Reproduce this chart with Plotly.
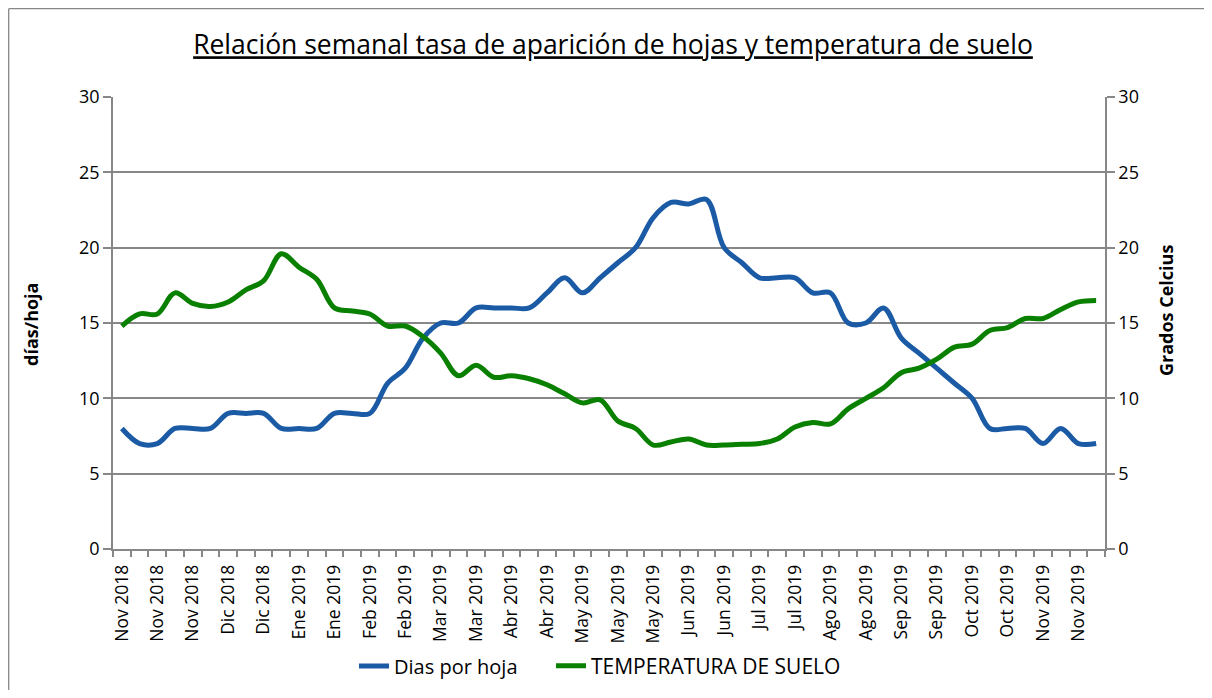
import plotly.graph_objects as go

# Weekly categories (56 weeks); labels shown every 2nd week
tick_labels = ["Nov 2018", "Nov 2018", "Nov 2018", "Dic 2018", "Dic 2018", "Ene 2019", "Ene 2019",
               "Feb 2019", "Feb 2019", "Mar 2019", "Mar 2019", "Abr 2019", "Abr 2019", "May 2019",
               "May 2019", "May 2019", "Jun 2019", "Jun 2019", "Jul 2019", "Jul 2019", "Ago 2019",
               "Ago 2019", "Sep 2019", "Sep 2019", "Oct 2019", "Oct 2019", "Nov 2019", "Nov 2019"]

dias_por_hoja = [8, 7, 7, 8, 8, 8, 9, 9, 9, 8, 8, 8, 9, 9, 9, 11, 12, 14, 15, 15, 16, 16, 16,
                 16, 17, 18, 17, 18, 19, 20, 22, 23, 22.9, 23.2, 20, 19, 18, 18, 18, 17, 17, 15,
                 15, 16, 14, 13, 12, 11, 10, 8, 8, 8, 7, 8, 7, 7]

temperatura_suelo = [14.8, 15.6, 15.6, 17.0, 16.3, 16.1, 16.4, 17.2, 17.8, 19.6, 18.7, 17.9,
                     16.0, 15.8, 15.6, 14.8, 14.8, 14.1, 13.0, 11.5, 12.2, 11.4, 11.5, 11.3,
                     10.9, 10.3, 9.7, 9.9, 8.5, 8.0, 6.9, 7.1, 7.3, 6.9, 6.9, 6.95, 7.0, 7.3,
                     8.1, 8.4, 8.3, 9.3, 10.0, 10.7, 11.7, 12.0, 12.6, 13.4, 13.6, 14.5, 14.7,
                     15.3, 15.3, 15.9, 16.4, 16.5]

weeks = list(range(len(dias_por_hoja)))
label_pos = weeks[::2]

GRAY = "#878787"
FONT = "Open Sans"

fig = go.Figure()
fig.add_trace(go.Scatter(x=weeks, y=dias_por_hoja, name="Dias por hoja", mode="lines",
                         legend="legend",
                         line=dict(color="#1B5AA5", width=5, shape="spline", smoothing=1)))
fig.add_trace(go.Scatter(x=weeks, y=temperatura_suelo, name="TEMPERATURA DE SUELO", mode="lines",
                         yaxis="y2", legend="legend2",
                         line=dict(color="#0A8000", width=5, shape="spline", smoothing=1)))

OFF = 8  # page body margin
W, H = 1196, 682
L, R, T, B = 105, 99, 89, 141
pw, ph = W - L - R, H - T - B

def px(x_page):
    return (x_page - OFF - L) / pw

def py(y_page):
    return (H - B - (y_page - OFF)) / ph

leg_common = dict(orientation="h", xref="container", yref="container", xanchor="left",
                  y=1 - (666 - OFF) / H, yanchor="middle",
                  itemwidth=30, bgcolor="rgba(0,0,0,0)")

fig.update_layout(
    width=W, height=H,
    margin=dict(l=L, r=R, t=T, b=B, autoexpand=False),
    paper_bgcolor="white", plot_bgcolor="white",
    font=dict(family=FONT, color="#000000", size=16),
    title=dict(text="<u>Relación semanal tasa de aparición de hojas y temperatura de suelo</u>",
               x=(613 - OFF) / W, xanchor="center", y=1 - (45 - OFF) / H, yanchor="middle",
               font=dict(size=26.5, family=FONT, color="#000000")),
    xaxis=dict(range=[-0.5, len(weeks) - 0.5], tickmode="array", tickvals=label_pos,
               ticktext=tick_labels, tickangle=-90, ticks="", showgrid=False,
               showline=True, linecolor=GRAY, linewidth=1.5, zeroline=False,
               tickfont=dict(size=17.5), ticklabelstandoff=7,
               minor=dict(tickmode="array", tickvals=[w - 0.5 for w in weeks] + [len(weeks) - 0.5],
                          ticks="outside", ticklen=6, tickcolor=GRAY, tickwidth=1.5, showgrid=False)),
    yaxis=dict(range=[0, 30], tickvals=[0, 5, 10, 15, 20, 25, 30], showgrid=True,
               gridcolor=GRAY, gridwidth=1.5, showline=True, linecolor=GRAY, linewidth=1.5,
               ticks="outside", ticklen=8, tickcolor=GRAY, tickwidth=1.5, zeroline=False,
               tickfont=dict(size=18)),
    yaxis2=dict(range=[0, 30], tickvals=[0, 5, 10, 15, 20, 25, 30], overlaying="y", side="right",
                showgrid=False, showline=True, linecolor=GRAY, linewidth=1.5,
                ticks="outside", ticklen=8, tickcolor=GRAY, tickwidth=1.5, zeroline=False,
                tickfont=dict(size=18)),
    legend=dict(x=(354 - OFF) / W, font=dict(size=20), **leg_common),
    legend2=dict(x=(551 - OFF) / W, font=dict(size=21), **leg_common),
    showlegend=True,
)

fig.add_annotation(text="<b>días/hoja</b>", x=px(31), y=py(325), xref="paper", yref="paper",
                   xanchor="center", yanchor="middle",
                   textangle=-90, showarrow=False, font=dict(size=18, family=FONT))
fig.add_annotation(text="<b>Grados Celcius</b>", x=px(1166), y=py(311), xref="paper", yref="paper",
                   xanchor="center", yanchor="middle",
                   textangle=-90, showarrow=False, font=dict(size=18, family=FONT))

# outer chart border (left and top edges visible in the frame)
fig.add_shape(type="line", xref="paper", yref="paper", x0=px(8.7), x1=px(8.7), y0=py(8.7), y1=py(720),
              line=dict(color=GRAY, width=1.3))
fig.add_shape(type="line", xref="paper", yref="paper", x0=px(8.7), x1=px(1230), y0=py(8.7), y1=py(8.7),
              line=dict(color=GRAY, width=1.3))

fig.write_html("out.html")
